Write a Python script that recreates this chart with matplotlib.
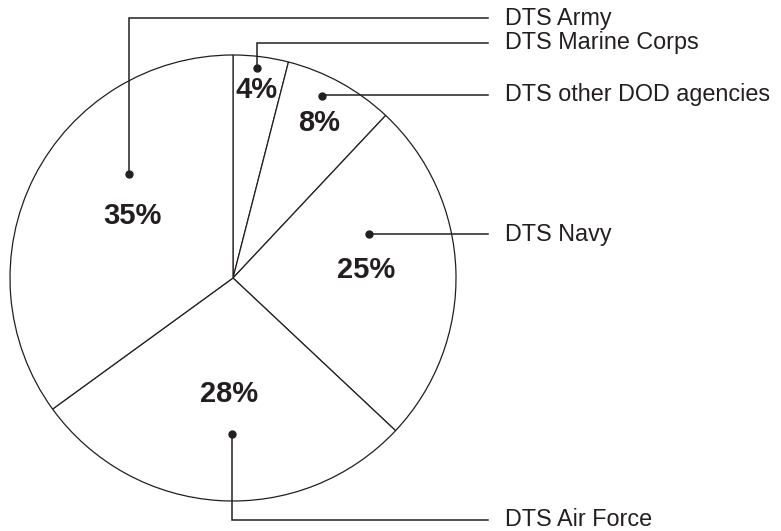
import matplotlib.pyplot as plt
import numpy as np

# slices, clockwise from 12 o'clock
names = ['DTS Marine Corps', 'DTS other DOD agencies', 'DTS Navy', 'DTS Air Force', 'DTS Army']
shares = [4, 8, 25, 28, 35]

# layout (pixel units, y measured from the top of the image)
W, H = 781, 531
cx, cy, rad = 233, 278, 223
pct_pos = [(0.85, 82.8), (0.795, 61.0), (0.60, 3.4), (0.52, -92.0), (0.53, 148.6)]   # (radius fraction, angle)
dot_pos = [(0.95, 83.5), (0.91, 64.0), (0.64, 18.0), (0.70, -90.4), (0.66, 135.0)]
label_y = [43, 95, 234, 520, 18]
line_end_x = 488
label_x = 505
ink = '#231f20'

fig = plt.figure(figsize=(W / 100, H / 100), dpi=100)
ax = fig.add_axes([0, 0, 1, 1])
ax.axis('off')

ax.pie(shares, startangle=90, counterclock=False, center=(cx, H - cy), radius=rad,
       colors=['white'] * len(shares),
       wedgeprops=dict(edgecolor=ink, linewidth=0.9))
ax.set_xlim(0, W)
ax.set_ylim(0, H)
ax.set_aspect('auto')

for i, name in enumerate(names):
    fr, ang = pct_pos[i]
    tx = cx + fr * rad * np.cos(np.radians(ang))
    ty = (H - cy) + fr * rad * np.sin(np.radians(ang))
    ax.text(tx, ty, f'{shares[i]}%', ha='center', va='center', fontsize=21,
            fontweight='bold', family='Liberation Sans', color=ink)

    fr, ang = dot_pos[i]
    dx = cx + fr * rad * np.cos(np.radians(ang))
    dy = (H - cy) + fr * rad * np.sin(np.radians(ang))
    ly = H - label_y[i]
    ax.plot([dx, dx, line_end_x], [dy, ly, ly], color=ink, linewidth=1.1,
            solid_joinstyle='miter')
    ax.plot(dx, dy, 'o', color=ink, markersize=5)
    ax.text(label_x, ly, name, ha='left', va='center', fontsize=16.8,
            family='Liberation Sans', color=ink)

fig.savefig('out.png', dpi=100)
